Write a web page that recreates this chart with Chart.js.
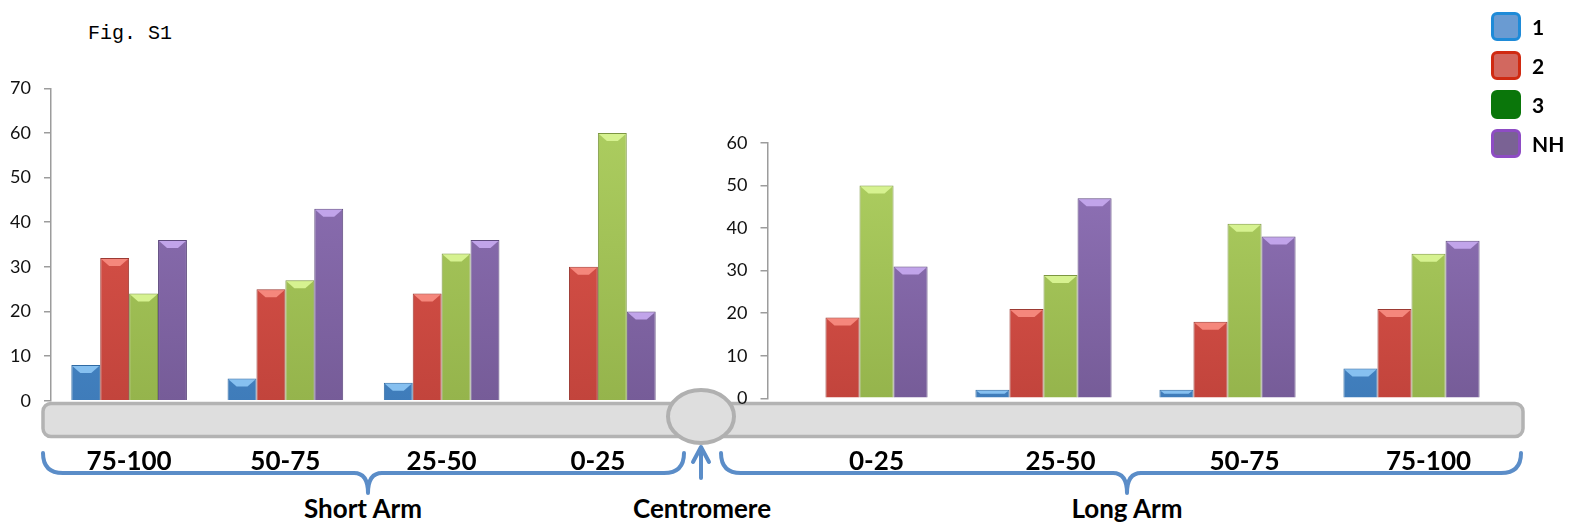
<!DOCTYPE html>
<html>
<head>
<meta charset="utf-8">
<script src="https://cdn.jsdelivr.net/npm/chart.js@4.4.1/dist/chart.umd.min.js"></script>
<style>
  body { margin: 0; background: #fff; }
  #page { position: relative; width: 1580px; height: 527px; overflow: hidden; }
  #deco { position: absolute; left: 0; top: 0; }
  #shortWrap { position: absolute; left: 0; top: 0; width: 690px; height: 527px; }
  #longWrap { position: absolute; left: 690px; top: 0; width: 890px; height: 527px; }
  #legend { position: absolute; left: 1491px; top: 7px; font: bold 21px Lato, sans-serif; }
  .item { display: flex; align-items: center; height: 39px; }
  .box { width: 30px; height: 29px; box-sizing: border-box; border: 3px solid; border-radius: 6px; margin-right: 11px; }
</style>
</head>
<body>
<div id="page">
  <svg id="deco" width="1580" height="527" xmlns="http://www.w3.org/2000/svg">
    <text x="88" y="39" font-family="'Courier New', 'Liberation Mono', monospace" font-size="20" fill="#000">Fig. S1</text>
    <!-- chromosome -->
    <rect x="43" y="403.5" width="670" height="33" rx="8" fill="#dedede" stroke="#b3b3b3" stroke-width="3.5"/>
    <rect x="690" y="403.5" width="833" height="33" rx="8" fill="#dedede" stroke="#b3b3b3" stroke-width="3.5"/>
    <ellipse cx="701" cy="416.5" rx="33" ry="26.5" fill="#dedede" stroke="#b0b0b0" stroke-width="4"/>
    <!-- braces -->
    <g fill="none" stroke="#5b8dc8" stroke-width="4" stroke-linecap="round" stroke-linejoin="round">
      <path d="M43 453 Q43 473 63 473 L354 473 Q368 473 368 493 Q368 473 382 473 L664 473 Q684 473 684 453"/>
      <path d="M721 453 Q721 473 741 473 L1113 473 Q1127 473 1127 493 Q1127 473 1141 473 L1501 473 Q1521 473 1521 453"/>
      <path d="M701 478 L701 448 M693 462 L701 447 L709 462"/>
    </g>
    <g font-family="Lato, sans-serif" font-weight="bold" font-size="26" fill="#000" text-anchor="middle">
      <text x="363" y="518">Short Arm</text>
      <text x="702" y="518">Centromere</text>
      <text x="1127" y="518">Long Arm</text>
    </g>
  </svg>
  <div id="shortWrap"><canvas id="shortChart" width="690" height="527"></canvas></div>
  <div id="longWrap"><canvas id="longChart" width="890" height="527"></canvas></div>
  <div id="legend"></div>
</div>
<script>
// series
const seriesNames = ['1', '2', '3', 'NH'];

// short arm (left), position along arm in %
const shortLabels = ['75-100', '50-75', '25-50', '0-25'];
const short1 = [8, 5, 4, 0];
const short2 = [32, 25, 24, 30];
const short3 = [24, 27, 33, 60];
const shortNH = [36, 43, 36, 20];

// long arm (right)
const longLabels = ['0-25', '25-50', '50-75', '75-100'];
const long1 = [0, 2, 2, 7];
const long2 = [19, 21, 18, 21];
const long3 = [50, 29, 41, 34];
const longNH = [31, 47, 38, 37];

// axis ranges
const shortMax = 70;
const longMax = 60;
const tickStep = 10;

// colours
const barTop = ['#5096d8', '#e2584e', '#afd062', '#9274ba'];
const barBottom = ['#3f7cba', '#c2443c', '#95b44c', '#765c98'];
const barEdge = ['#2f6aa3', '#9c3a33', '#7c9642', '#5e4a7e'];
const bevel = ['#86c0f0', '#f5877c', '#d6f290', '#c1a4ea'];
const legendFill = ['#6a9bd2', '#d2685f', '#0a760a', '#7a6294'];
const legendEdge = ['#1f8bd8', '#d02a12', '#0a760a', '#8e4cc4'];

function gradFill(i) {
    return (ctx) => {
        const area = ctx.chart.chartArea;
        if (!area) return barTop[i];
        const g = ctx.chart.ctx.createLinearGradient(0, area.top, 0, area.bottom);
        g.addColorStop(0, barTop[i]);
        g.addColorStop(1, barBottom[i]);
        return g;
    };
}

function makeSets(values) {
    return values.map((vals, i) => ({
        label: seriesNames[i],
        data: vals,
        backgroundColor: gradFill(i),
        borderColor: barEdge[i],
        borderWidth: 1,
        bevelColor: bevel[i],
        categoryPercentage: 0.74,
        barPercentage: 1.0
    }));
}

// lighter wedge on top of each bar, like the bevelled bars in the original
const bevelPlugin = {
    id: 'bevel',
    afterDatasetsDraw(chart) {
        const c = chart.ctx;
        chart.data.datasets.forEach((ds, i) => {
            chart.getDatasetMeta(i).data.forEach(bar => {
                const p = bar.getProps(['x', 'y', 'base', 'width'], true);
                const h = p.base - p.y;
                if (h < 1) return;
                const l = p.x - p.width / 2 + 1, r = p.x + p.width / 2 - 1;
                const b = Math.min(8, h / 2, p.width / 2);
                c.save();
                c.fillStyle = ds.bevelColor;
                c.beginPath();
                c.moveTo(l, p.y + 1);
                c.lineTo(r, p.y + 1);
                c.lineTo(r - b, p.y + b);
                c.lineTo(l + b, p.y + b);
                c.closePath();
                c.fill();
                c.restore();
            });
        });
    }
};

function armChart(id, labels, sets, max, opts) {
    return new Chart(document.getElementById(id), {
        type: 'bar',
        data: { labels: labels, datasets: sets },
        options: {
            responsive: false,
            animation: false,
            layout: { padding: { top: opts.top, right: opts.right, left: 0, bottom: 0 } },
            plugins: { legend: { display: false }, tooltip: { enabled: false } },
            scales: {
                x: {
                    grid: { display: false },
                    border: { display: false },
                    ticks: {
                        autoSkip: false, maxRotation: 0,
                        padding: opts.labelPad,
                        labelOffset: opts.labelOffset,
                        color: '#000',
                        font: { family: 'Lato', weight: 'bold', size: 26 }
                    },
                    afterFit: (s) => { s.height = 527 - opts.bottom; }
                },
                y: {
                    min: 0, max: max,
                    ticks: {
                        stepSize: tickStep,
                        padding: 13,
                        color: '#111',
                        font: { family: 'Lato', size: 18 }
                    },
                    grid: { drawOnChartArea: false, tickLength: 7, color: '#9c9c9c', lineWidth: 1.5 },
                    border: { color: '#9c9c9c', width: 1.5 },
                    afterFit: (s) => { s.width = opts.left; }
                }
            }
        },
        plugins: [bevelPlugin]
    });
}

armChart('shortChart', shortLabels, makeSets([short1, short2, short3, shortNH]), shortMax,
    { top: 88.3, bottom: 400.7, left: 51, right: 690 - 676, labelPad: 37, labelOffset: 0 });

armChart('longChart', longLabels, makeSets([long1, long2, long3, longNH]), longMax,
    { top: 143, bottom: 398.3, left: 77.5, right: 1580 - 1503.5, labelPad: 40, labelOffset: 17 });

// legend
const legend = document.getElementById('legend');
seriesNames.forEach((name, i) => {
    const row = document.createElement('div');
    row.className = 'item';
    row.innerHTML = `<div class="box" style="background:${legendFill[i]};border-color:${legendEdge[i]}"></div><span>${name}</span>`;
    legend.appendChild(row);
});
</script>
</body>
</html>
